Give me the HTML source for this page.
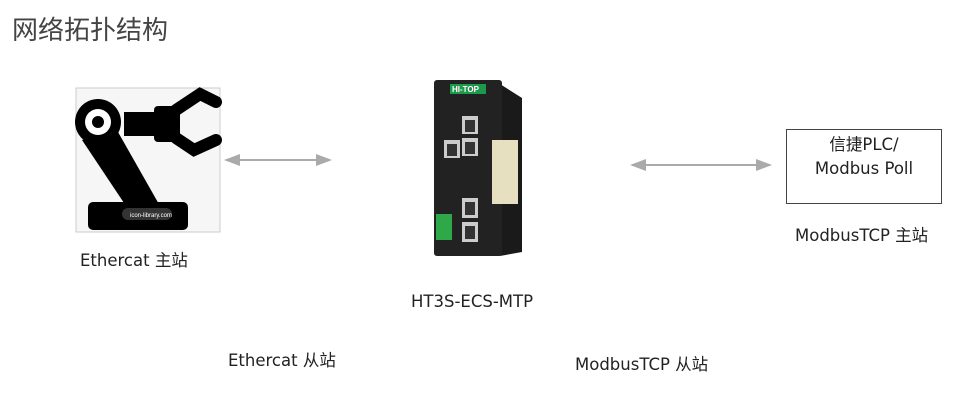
<!DOCTYPE html>
<html><head><meta charset="utf-8"><style>
body{margin:0;width:980px;height:407px;background:#fff;overflow:hidden;font-family:"DejaVu Sans","Noto Sans CJK SC",sans-serif;color:#222}
.t{position:absolute;white-space:nowrap;font-size:16.5px}
</style></head><body>
<div class="t" style="left:12px;top:10px;font-size:26px;color:#444;font-family:'Noto Sans CJK SC',sans-serif">网络拓扑结构</div>
<svg width="980" height="407" style="position:absolute;left:0;top:0">
<defs><marker id="a" markerWidth="8" markerHeight="6" refX="7" refY="3" orient="auto-start-reverse"><path d="M0,0 L8,3 L0,6z" fill="#aaa"/></marker></defs>
<rect x="76" y="88" width="144" height="144" fill="#f6f6f6" stroke="#ccc"/>
<polygon points="82,140 118,132 160,206 130,212" fill="#000"/>
<circle cx="98" cy="122" r="23" fill="#000"/><circle cx="98" cy="122" r="13" fill="#fff"/><circle cx="98" cy="122" r="6" fill="#000"/>
<rect x="124" y="112" width="48" height="24" fill="#000"/>
<rect x="154" y="106" width="26" height="36" rx="4" fill="#000"/>
<path d="M176,110 L200,94 L216,102 M176,138 L194,150 L216,140" stroke="#000" stroke-width="12" stroke-linecap="round" fill="none"/>
<rect x="88" y="202" width="100" height="28" rx="5" fill="#000"/>
<rect x="122" y="208" width="50" height="12" rx="6" fill="#333"/>
<text x="130" y="217" font-size="6" fill="#fff" font-family="Liberation Sans">icon-library.com</text>
<line x1="226" y1="160" x2="330" y2="160" stroke="#aaa" stroke-width="2" marker-start="url(#a)" marker-end="url(#a)"/>
<line x1="632" y1="165" x2="770" y2="165" stroke="#aaa" stroke-width="2" marker-start="url(#a)" marker-end="url(#a)"/>
<polygon points="500,84 522,98 522,252 500,256" fill="#1a1a1a"/>
<rect x="434" y="80" width="68" height="176" rx="3" fill="#222"/>
<rect x="450" y="84" width="36" height="10" fill="#1a9a4a"/>
<text x="452" y="92" font-size="8" fill="#fff" font-weight="bold" font-family="Liberation Sans">HI-TOP</text>
<rect x="462" y="116" width="16" height="18" fill="#ccc"/><rect x="465" y="120" width="10" height="12" fill="#333"/>
<rect x="462" y="138" width="16" height="18" fill="#ccc"/><rect x="465" y="142" width="10" height="12" fill="#333"/>
<rect x="444" y="140" width="16" height="18" fill="#ccc"/><rect x="447" y="144" width="10" height="12" fill="#333"/>
<rect x="462" y="198" width="16" height="20" fill="#ccc"/><rect x="465" y="202" width="10" height="13" fill="#333"/>
<rect x="462" y="222" width="16" height="20" fill="#ccc"/><rect x="465" y="226" width="10" height="13" fill="#333"/>
<rect x="436" y="214" width="16" height="26" fill="#2fa84a"/>
<rect x="492" y="140" width="26" height="64" fill="#e6dfc0"/>
</svg>
<div class="t" style="left:80px;top:247px">Ethercat 主站</div>
<div class="t" style="left:411px;top:292px">HT3S-ECS-MTP</div>
<div class="t" style="left:228px;top:347px">Ethercat 从站</div>
<div class="t" style="left:575px;top:351px">ModbusTCP 从站</div>
<div style="position:absolute;left:786px;top:129px;width:156px;height:75px;border:1px solid #444;text-align:center;font-size:16.5px;line-height:24px;padding-top:3px;box-sizing:border-box">信捷PLC/<br>Modbus Poll</div>
<div class="t" style="left:795px;top:222px">ModbusTCP 主站</div>
</body></html>
